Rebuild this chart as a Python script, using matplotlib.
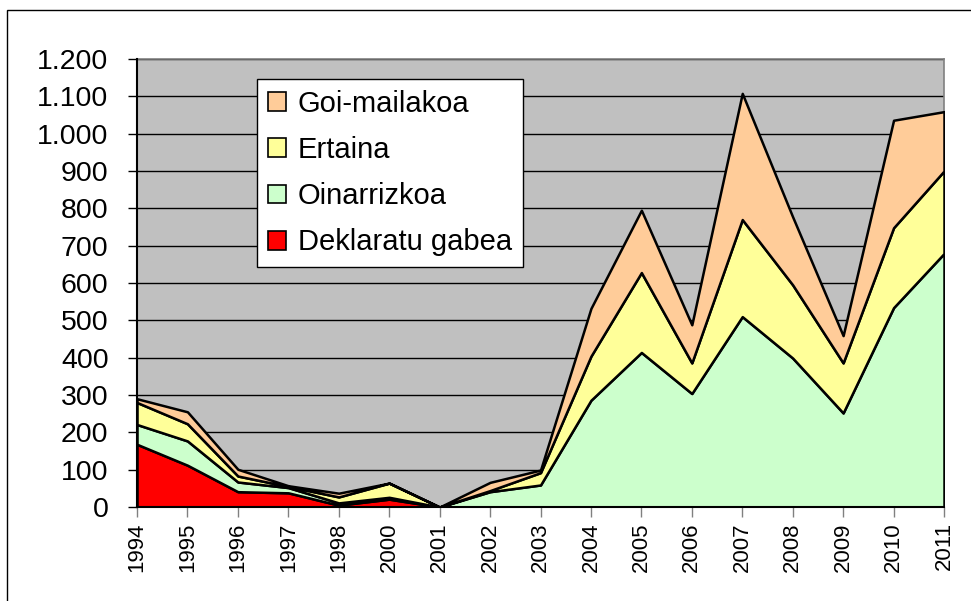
import numpy as np
import matplotlib
matplotlib.use("Agg")
import matplotlib.pyplot as plt
from matplotlib.patches import Rectangle
from matplotlib.ticker import FuncFormatter, MultipleLocator

plt.rcParams['font.family'] = ['Liberation Sans', 'DejaVu Sans']

years = ["1994", "1995", "1996", "1997", "1998", "2000", "2001", "2002", "2003",
         "2004", "2005", "2006", "2007", "2008", "2009", "2010", "2011"]
deklaratu = [168, 112, 41, 38, 5, 21, 0, 0, 0, 0, 0, 0, 0, 0, 0, 0, 0]
oinarrizkoa = [53, 65, 26, 14, 6, 5, 0, 41, 59, 286, 414, 304, 510, 399, 252, 534, 679]
ertaina = [59, 46, 16, 3, 16, 38, 0, 3, 33, 118, 214, 82, 260, 196, 134, 214, 221]
goi = [10, 32, 18, 2, 10, 0, 0, 22, 7, 128, 167, 102, 338, 182, 73, 288, 159]

labels = ["Deklaratu gabea", "Oinarrizkoa", "Ertaina", "Goi-mailakoa"]
colors = ["#FF0000", "#CCFFCC", "#FFFF99", "#FFCC99"]

fig = plt.figure(figsize=(9.71, 6.01), dpi=100)
# outer chart border (only left/top visible in the crop)
fig.patches.append(Rectangle((7/971, -0.2), 1.2, 1.2 - 10/601, transform=fig.transFigure,
                             fill=False, ec="black", lw=1.0))

ax = fig.add_axes([137/971, (601-507)/601, (944-137)/971, (507-59)/601])
ax.set_facecolor("#C0C0C0")
x = np.arange(len(years))
ax.stackplot(x, deklaratu, oinarrizkoa, ertaina, goi, colors=colors,
             labels=labels, edgecolor="black", linewidth=1.8, zorder=3)

ax.set_xlim(0, len(years) - 1)
ax.set_ylim(0, 1200)
ax.yaxis.set_major_locator(MultipleLocator(100))
ax.yaxis.set_major_formatter(FuncFormatter(lambda v, p: f"{int(v):,}".replace(",", ".")))
ax.grid(axis="y", color="black", lw=1.0, zorder=1)
ax.set_axisbelow(True)

ax.set_xticks(x)
ax.set_xticklabels(years, rotation=90, fontsize=16)
ax.tick_params(axis="y", labelsize=20.5, length=6.5, width=1, pad=14)
ax.tick_params(axis="x", length=7, width=1, color="#808080", pad=4)

for s in ("top", "right"):
    ax.spines[s].set_color("#808080")
    ax.spines[s].set_linewidth(1.2)
for s in ("left", "bottom"):
    ax.spines[s].set_color("black")
    ax.spines[s].set_linewidth(1.5)
    ax.spines[s].set_zorder(4)

h, l = ax.get_legend_handles_labels()
leg = fig.legend(h[::-1], l[::-1], loc="upper left",
                 bbox_to_anchor=(257/971, 1 - 79/601), borderaxespad=0,
                 fontsize=21, frameon=True, fancybox=False, edgecolor="black",
                 handlelength=0.62, handleheight=0.62, handletextpad=0.4,
                 labelspacing=0.62, borderpad=0.38, framealpha=1)
leg.get_frame().set_linewidth(1.0)
for p in leg.get_patches():
    p.set_linewidth(1.2)

fig.savefig("out.png", dpi=100)
